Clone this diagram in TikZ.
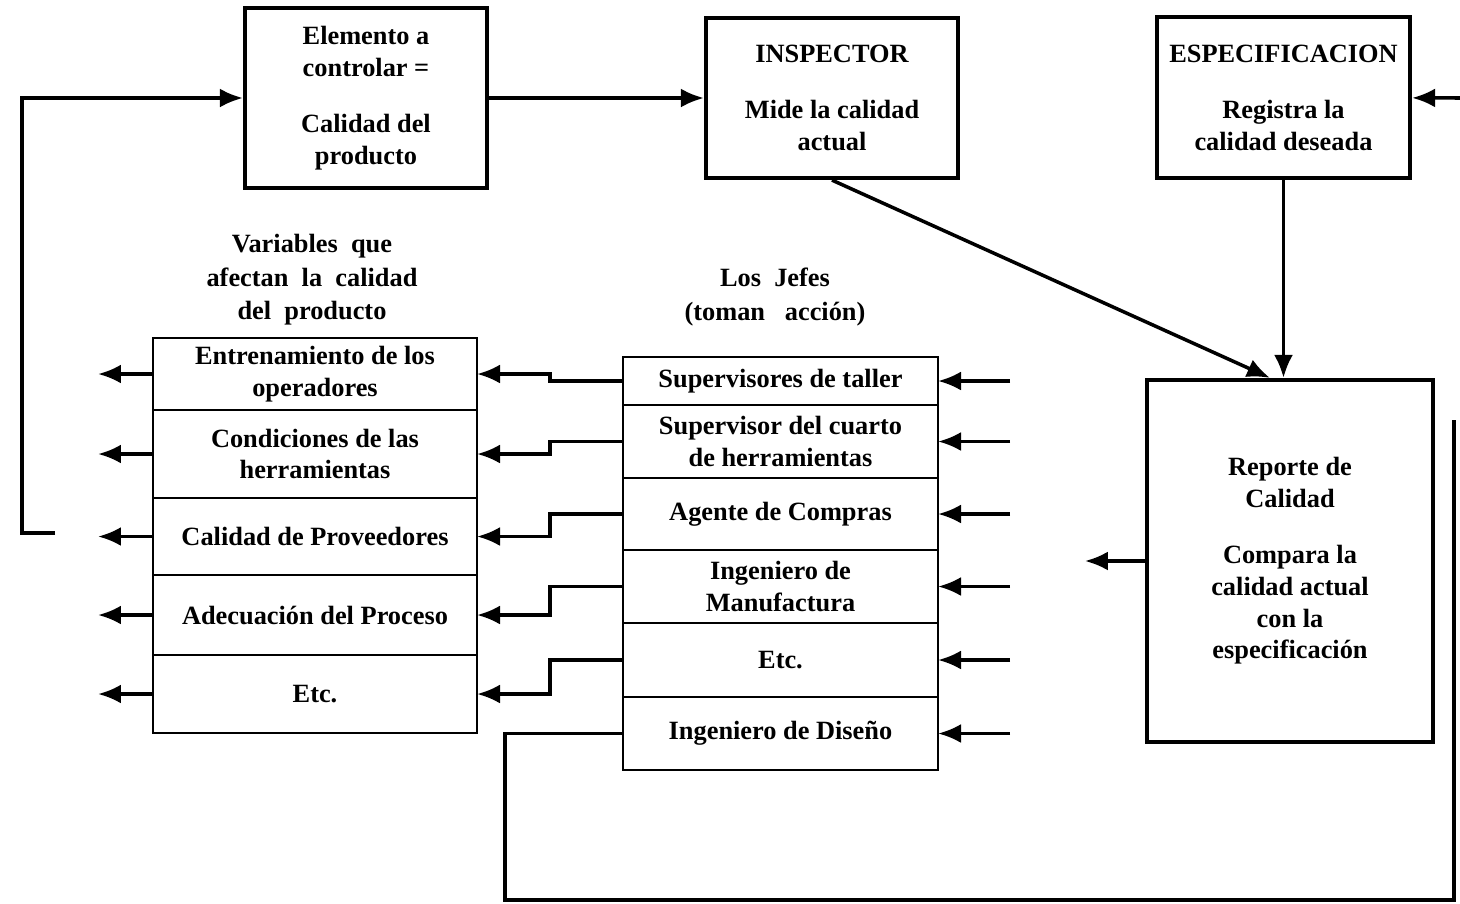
\documentclass[tikz,border=0pt]{standalone}
\usepackage{fontspec}
\setmainfont{Liberation Serif}
\usetikzlibrary{arrows.meta,positioning,calc}
\tikzset{
  topbox/.style={rectangle, draw=black, very thick, align=center,
                 inner sep=2pt, font=\fontsize{7.5}{9}\selectfont\bfseries},
  varrow/.style={rectangle, draw=black, thick, align=center, inner sep=2pt, outer sep=0pt,
                 minimum width=3.24cm, font=\fontsize{7.5}{9}\selectfont\bfseries},
  jeferow/.style={varrow, minimum width=3.15cm},
  headtxt/.style={align=center, font=\fontsize{7.5}{9.5}\selectfont\bfseries},
  flowarr/.style={-{Latex[length=2.3mm,width=1.9mm]}, line width=1pt, draw=black},
  flowline/.style={line width=1pt, draw=black},
}
\begin{document}
\begin{tikzpicture}[node distance=0pt]
    \useasboundingbox (0,0) rectangle (14.6,-9.03);
    % top row
    \node[topbox, minimum width=2.42cm, minimum height=1.80cm] (elem) at (3.66,-0.98)
         {Elemento a\\controlar =\\[7pt]Calidad del\\producto};
    \node[topbox, minimum width=2.52cm, minimum height=1.60cm] (insp) at (8.32,-0.98)
         {INSPECTOR\\[7pt]Mide la calidad\\actual};
    \node[topbox, minimum width=2.53cm, minimum height=1.61cm] (espec) at (12.835,-0.975)
         {ESPECIFICACION\\[7pt]Registra la\\calidad deseada};
    \node[topbox, minimum width=2.86cm, minimum height=3.62cm] (rep) at (12.90,-5.61)
         {Reporte de\\Calidad\\[7pt]Compara la\\calidad actual\\con la\\especificación};
    % headings
    \node[headtxt] (hdvar)  at (3.12,-2.80) {Variables~ que\\afectan~ la~ calidad\\del~ producto};
    \node[headtxt] (hdjefe) at (7.75,-2.97) {Los~ Jefes\\(toman~~ acción)};
    % variables stack
    \node[varrow, minimum height=0.72cm] (var1) at (3.15,-3.74) {Entrenamiento de los\\operadores};
    \node[varrow, minimum height=0.88cm, below=of var1] (var2) {Condiciones de las\\herramientas};
    \node[varrow, minimum height=0.77cm, below=of var2] (var3) {Calidad de Proveedores};
    \node[varrow, minimum height=0.80cm, below=of var3] (var4) {Adecuación del Proceso};
    \node[varrow, minimum height=0.78cm, below=of var4] (var5) {Etc.};
    % jefes stack
    \node[jeferow, minimum height=0.48cm] (j1) at (7.805,-3.81) {Supervisores de taller};
    \node[jeferow, minimum height=0.73cm, below=of j1] (j2) {Supervisor del cuarto\\de herramientas};
    \node[jeferow, minimum height=0.72cm, below=of j2] (j3) {Agente de Compras};
    \node[jeferow, minimum height=0.73cm, below=of j3] (j4) {Ingeniero de\\Manufactura};
    \node[jeferow, minimum height=0.74cm, below=of j4] (j5) {Etc.};
    \node[jeferow, minimum height=0.73cm, below=of j5] (j6) {Ingeniero de Diseño};
    % free ends
    \coordinate (loopst) at (0.55,-5.33);
    \coordinate (rin)    at (14.6,-0.98);
    \coordinate (lowl)   at (5.05,-9.00);
    \coordinate (rtop)   at (14.54,-4.20);
    % connectors
    \draw[flowarr] (elem) -- (insp);
    \draw[flowarr] (rin) -- (espec);
    \draw[flowarr] (loopst) -- ++(-0.33,0) |- (elem.west);
    \draw[flowarr] (insp.south) -- ([xshift=-2mm]rep.north);
    \draw[flowarr] (espec.south) -- (espec.south |- rep.north);
    \draw[flowarr] (rep.west) -- ++(-0.60,0);
    \draw[flowarr] (j1.west) -- ++(-0.73,0) |- (var1.east);
    \draw[flowarr] (j2.west) -- ++(-0.73,0) |- (var2.east);
    \draw[flowarr] (j3.west) -- ++(-0.73,0) |- (var3.east);
    \draw[flowarr] (j4.west) -- ++(-0.73,0) |- (var4.east);
    \draw[flowarr] (j5.west) -- ++(-0.73,0) |- (var5.east);
    \draw[flowline] (j6.west) -| (lowl) -| (rtop);
    \draw[flowarr] (var1.west) -- ++(-0.55,0);
    \draw[flowarr] (var2.west) -- ++(-0.55,0);
    \draw[flowarr] (var3.west) -- ++(-0.55,0);
    \draw[flowarr] (var4.west) -- ++(-0.55,0);
    \draw[flowarr] (var5.west) -- ++(-0.55,0);
    \draw[flowarr] ([xshift=7.2mm]j1.east) -- (j1.east);
    \draw[flowarr] ([xshift=7.2mm]j2.east) -- (j2.east);
    \draw[flowarr] ([xshift=7.2mm]j3.east) -- (j3.east);
    \draw[flowarr] ([xshift=7.2mm]j4.east) -- (j4.east);
    \draw[flowarr] ([xshift=7.2mm]j5.east) -- (j5.east);
    \draw[flowarr] ([xshift=7.2mm]j6.east) -- (j6.east);
  \end{tikzpicture}
\end{document}
